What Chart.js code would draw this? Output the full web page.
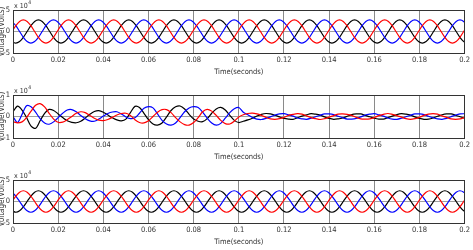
<!DOCTYPE html>
<html>
<head>
<meta charset="utf-8">
<script src="https://cdn.jsdelivr.net/npm/chart.js@4.4.1/dist/chart.umd.min.js"></script>
<style>
  html, body { margin: 0; padding: 0; background: #fff; }
  body { width: 473px; height: 250px; overflow: hidden; position: relative; }
  .plot { position: absolute; left: -4px; width: 477px; height: 85px; }
</style>
</head>
<body>
<div class="plot" style="top:0px"><canvas id="c1"></canvas></div>
<div class="plot" style="top:85px"><canvas id="c2"></canvas></div>
<div class="plot" style="top:170px"><canvas id="c3"></canvas></div>
<script>
// time axis is in milliseconds, ticks labelled in seconds
const xTickLabels = ['0', '0.02', '0.04', '0.06', '0.08', '0.1', '0.12', '0.14', '0.16', '0.18', '0.2'];

// sample times for the source and load voltages (ms)
const timeMs = [
  -0.42, 1.25, 2.92, 4.58, 6.25, 7.92, 9.58, 11.25, 12.92, 14.58, 16.25, 17.92,
  19.58, 21.25, 22.92, 24.58, 26.25, 27.92, 29.58, 31.25, 32.92, 34.58, 36.25, 37.92,
  39.58, 41.25, 42.92, 44.58, 46.25, 47.92, 49.58, 51.25, 52.92, 54.58, 56.25, 57.92,
  59.58, 61.25, 62.92, 64.58, 66.25, 67.92, 69.58, 71.25, 72.92, 74.58, 76.25, 77.92,
  79.58, 81.25, 82.92, 84.58, 86.25, 87.92, 89.58, 91.25, 92.92, 94.58, 96.25, 97.92,
  99.58, 101.25, 102.92, 104.58, 106.25, 107.92, 109.58, 111.25, 112.92, 114.58, 116.25, 117.92,
  119.58, 121.25, 122.92, 124.58, 126.25, 127.92, 129.58, 131.25, 132.92, 134.58, 136.25, 137.92,
  139.58, 141.25, 142.92, 144.58, 146.25, 147.92, 149.58, 151.25, 152.92, 154.58, 156.25, 157.92,
  159.58, 161.25, 162.92, 164.58, 166.25, 167.92, 169.58, 171.25, 172.92, 174.58, 176.25, 177.92,
  179.58, 181.25, 182.92, 184.58, 186.25, 187.92, 189.58, 191.25, 192.92, 194.58, 196.25, 197.92,
  199.58, 201.25
];

// top plot (x 10^4 V)
const srcRed = [
  0, 1.35, 2.34, 2.7, 2.34, 1.35, 0, -1.35, -2.34, -2.7, -2.34, -1.35,
  0, 1.35, 2.34, 2.7, 2.34, 1.35, 0, -1.35, -2.34, -2.7, -2.34, -1.35,
  0, 1.35, 2.34, 2.7, 2.34, 1.35, 0, -1.35, -2.34, -2.7, -2.34, -1.35,
  0, 1.35, 2.34, 2.7, 2.34, 1.35, 0, -1.35, -2.34, -2.7, -2.34, -1.35,
  0, 1.35, 2.34, 2.7, 2.34, 1.35, 0, -1.35, -2.34, -2.7, -2.34, -1.35,
  0, 1.35, 2.34, 2.7, 2.34, 1.35, 0, -1.35, -2.34, -2.7, -2.34, -1.35,
  0, 1.35, 2.34, 2.7, 2.34, 1.35, 0, -1.35, -2.34, -2.7, -2.34, -1.35,
  0, 1.35, 2.34, 2.7, 2.34, 1.35, 0, -1.35, -2.34, -2.7, -2.34, -1.35,
  0, 1.35, 2.34, 2.7, 2.34, 1.35, 0, -1.35, -2.34, -2.7, -2.34, -1.35,
  0, 1.35, 2.34, 2.7, 2.34, 1.35, 0, -1.35, -2.34, -2.7, -2.34, -1.35,
  0, 1.35
];
const srcBlue = [
  2.34, 1.35, 0, -1.35, -2.34, -2.7, -2.34, -1.35, 0, 1.35, 2.34, 2.7,
  2.34, 1.35, 0, -1.35, -2.34, -2.7, -2.34, -1.35, 0, 1.35, 2.34, 2.7,
  2.34, 1.35, 0, -1.35, -2.34, -2.7, -2.34, -1.35, 0, 1.35, 2.34, 2.7,
  2.34, 1.35, 0, -1.35, -2.34, -2.7, -2.34, -1.35, 0, 1.35, 2.34, 2.7,
  2.34, 1.35, 0, -1.35, -2.34, -2.7, -2.34, -1.35, 0, 1.35, 2.34, 2.7,
  2.34, 1.35, 0, -1.35, -2.34, -2.7, -2.34, -1.35, 0, 1.35, 2.34, 2.7,
  2.34, 1.35, 0, -1.35, -2.34, -2.7, -2.34, -1.35, 0, 1.35, 2.34, 2.7,
  2.34, 1.35, 0, -1.35, -2.34, -2.7, -2.34, -1.35, 0, 1.35, 2.34, 2.7,
  2.34, 1.35, 0, -1.35, -2.34, -2.7, -2.34, -1.35, 0, 1.35, 2.34, 2.7,
  2.34, 1.35, 0, -1.35, -2.34, -2.7, -2.34, -1.35, 0, 1.35, 2.34, 2.7,
  2.34, 1.35
];
const srcBlack = [
  -2.34, -2.7, -2.34, -1.35, 0, 1.35, 2.34, 2.7, 2.34, 1.35, 0, -1.35,
  -2.34, -2.7, -2.34, -1.35, 0, 1.35, 2.34, 2.7, 2.34, 1.35, 0, -1.35,
  -2.34, -2.7, -2.34, -1.35, 0, 1.35, 2.34, 2.7, 2.34, 1.35, 0, -1.35,
  -2.34, -2.7, -2.34, -1.35, 0, 1.35, 2.34, 2.7, 2.34, 1.35, 0, -1.35,
  -2.34, -2.7, -2.34, -1.35, 0, 1.35, 2.34, 2.7, 2.34, 1.35, 0, -1.35,
  -2.34, -2.7, -2.34, -1.35, 0, 1.35, 2.34, 2.7, 2.34, 1.35, 0, -1.35,
  -2.34, -2.7, -2.34, -1.35, 0, 1.35, 2.34, 2.7, 2.34, 1.35, 0, -1.35,
  -2.34, -2.7, -2.34, -1.35, 0, 1.35, 2.34, 2.7, 2.34, 1.35, 0, -1.35,
  -2.34, -2.7, -2.34, -1.35, 0, 1.35, 2.34, 2.7, 2.34, 1.35, 0, -1.35,
  -2.34, -2.7, -2.34, -1.35, 0, 1.35, 2.34, 2.7, 2.34, 1.35, 0, -1.35,
  -2.34, -2.7
];

// middle plot: distorted voltage, drops after 0.1 s (x 10^4 V)
const faultTimeMs = [
  0, 2, 4, 6, 8, 10, 12, 14, 16, 18, 20, 22, 24, 26, 28, 30, 32, 34, 36, 38,
  40, 42, 44, 46, 48, 50, 52, 54, 56, 58, 60, 62, 64, 66, 68, 70, 72, 74, 76, 78,
  80, 82, 84, 86, 88, 90, 92, 94, 96, 98, 100, 102, 104, 106, 108, 110, 112, 114, 116, 118,
  120, 122, 124, 126, 128, 130, 132, 134, 136, 138, 140, 142, 144, 146, 148, 150, 152, 154, 156, 158,
  160, 162, 164, 166, 168, 170, 172, 174, 176, 178, 180, 182, 184, 186, 188, 190, 192, 194, 196, 198,
  200
];
const faultRed = [
  -0.24, -0.3, -0.25, -0.05, 0.25, 0.52, 0.6, 0.45, 0.15, -0.12,
  -0.27, -0.26, -0.15, 0.0, 0.15, 0.22, 0.18, 0.05, -0.08, -0.17,
  -0.19, -0.14, -0.04, 0.07, 0.14, 0.15, 0.05, -0.15, -0.28, -0.3,
  -0.2, 0.0, 0.2, 0.32, 0.32, 0.18, -0.05, -0.25, -0.38, -0.4,
  -0.28, -0.05, 0.22, 0.33, 0.25, 0.05, -0.18, -0.33, -0.35, -0.22,
  -0.02,
  0.08, 0.14, 0.16, 0.12, 0.05, -0.04, -0.11, -0.13, -0.1, -0.04,
  0.05, 0.1, 0.13, 0.11, 0.03, -0.05, -0.1, -0.14, -0.1, -0.03,
  0.04, 0.11, 0.12, 0.1, 0.05, -0.04, -0.11, -0.12, -0.11, -0.05,
  0.04, 0.1, 0.14, 0.1, 0.04, -0.03, -0.1, -0.13, -0.1, -0.04,
  0.05, 0.11, 0.13, 0.11, 0.03, -0.04, -0.11, -0.13, -0.11, -0.04
];
const faultBlue = [
  0.0, -0.28, 0.1, 0.5, 0.45, 0.2, -0.1, -0.3, -0.36, -0.25,
  -0.05, 0.15, 0.3, 0.32, 0.22, 0.05, -0.1, -0.2, -0.22, -0.12,
  0.02, 0.14, 0.21, 0.22, 0.12, -0.02, -0.1, -0.06, 0.15, 0.38,
  0.46, 0.4, 0.12, -0.18, -0.35, -0.4, -0.3, -0.05, 0.22, 0.4,
  0.46, 0.42, 0.2, -0.08, -0.3, -0.4, -0.32, -0.08, 0.18, 0.36,
  0.42,
  0.2, 0.08, -0.05, -0.12, -0.14, -0.09, -0.02, 0.07, 0.12, 0.13,
  0.08, 0.02, -0.07, -0.11, -0.13, -0.08, -0.01, 0.06, 0.12, 0.12,
  0.09, 0.01, -0.06, -0.12, -0.12, -0.09, -0.02, 0.07, 0.11, 0.13,
  0.08, 0.02, -0.07, -0.12, -0.13, -0.08, -0.01, 0.06, 0.12, 0.12,
  0.09, 0.01, -0.06, -0.11, -0.13, -0.09, -0.01, 0.07, 0.12, 0.13
];
const faultBlack = [
  0.22, 0.48, 0.3, -0.05, -0.45, -0.55, -0.2, 0.15, 0.33, 0.28,
  0.12, -0.05, -0.2, -0.27, -0.29, -0.22, -0.07, 0.1, 0.23, 0.27,
  0.2, 0.07, -0.06, -0.16, -0.2, -0.12, 0.18, 0.47, 0.42, 0.15,
  -0.15, -0.35, -0.4, -0.3, -0.02, 0.28, 0.45, 0.49, 0.35, 0.1,
  -0.12, -0.22, -0.24, -0.1, 0.15, 0.35, 0.42, 0.3, 0.05, -0.18,
  -0.28,
  -0.22, -0.16, -0.08, 0.02, 0.1, 0.14, 0.12, 0.06, -0.02, -0.09,
  -0.12, -0.13, -0.06, 0.02, 0.08, 0.13, 0.11, 0.07, -0.02, -0.09,
  -0.13, -0.11, -0.07, 0.01, 0.09, 0.12, 0.12, 0.05, -0.01, -0.08,
  -0.12, -0.12, -0.05, 0.02, 0.09, 0.13, 0.11, 0.07, -0.02, -0.09,
  -0.13, -0.12, -0.07, 0.01, 0.08, 0.12, 0.12, 0.06, -0.01, -0.08
];

// bottom plot (x 10^4 V)
const loadRed = [
  0, 1.25, 2.17, 2.5, 2.17, 1.25, 0, -1.25, -2.17, -2.5, -2.17, -1.25,
  0, 1.25, 2.17, 2.5, 2.17, 1.25, 0, -1.25, -2.17, -2.5, -2.17, -1.25,
  0, 1.25, 2.17, 2.5, 2.17, 1.25, 0, -1.25, -2.17, -2.5, -2.17, -1.25,
  0, 1.25, 2.17, 2.5, 2.17, 1.25, 0, -1.25, -2.17, -2.5, -2.17, -1.25,
  0, 1.25, 2.17, 2.5, 2.17, 1.25, 0, -1.25, -2.17, -2.5, -2.17, -1.25,
  0, 1.25, 2.17, 2.5, 2.17, 1.25, 0, -1.25, -2.17, -2.5, -2.17, -1.25,
  0, 1.25, 2.17, 2.5, 2.17, 1.25, 0, -1.25, -2.17, -2.5, -2.17, -1.25,
  0, 1.25, 2.17, 2.5, 2.17, 1.25, 0, -1.25, -2.17, -2.5, -2.17, -1.25,
  0, 1.25, 2.17, 2.5, 2.17, 1.25, 0, -1.25, -2.17, -2.5, -2.17, -1.25,
  0, 1.25, 2.17, 2.5, 2.17, 1.25, 0, -1.25, -2.17, -2.5, -2.17, -1.25,
  0, 1.25
];
const loadBlue = [
  2.17, 1.25, 0, -1.25, -2.17, -2.5, -2.17, -1.25, 0, 1.25, 2.17, 2.5,
  2.17, 1.25, 0, -1.25, -2.17, -2.5, -2.17, -1.25, 0, 1.25, 2.17, 2.5,
  2.17, 1.25, 0, -1.25, -2.17, -2.5, -2.17, -1.25, 0, 1.25, 2.17, 2.5,
  2.17, 1.25, 0, -1.25, -2.17, -2.5, -2.17, -1.25, 0, 1.25, 2.17, 2.5,
  2.17, 1.25, 0, -1.25, -2.17, -2.5, -2.17, -1.25, 0, 1.25, 2.17, 2.5,
  2.17, 1.25, 0, -1.25, -2.17, -2.5, -2.17, -1.25, 0, 1.25, 2.17, 2.5,
  2.17, 1.25, 0, -1.25, -2.17, -2.5, -2.17, -1.25, 0, 1.25, 2.17, 2.5,
  2.17, 1.25, 0, -1.25, -2.17, -2.5, -2.17, -1.25, 0, 1.25, 2.17, 2.5,
  2.17, 1.25, 0, -1.25, -2.17, -2.5, -2.17, -1.25, 0, 1.25, 2.17, 2.5,
  2.17, 1.25, 0, -1.25, -2.17, -2.5, -2.17, -1.25, 0, 1.25, 2.17, 2.5,
  2.17, 1.25
];
const loadBlack = [
  -2.17, -2.5, -2.17, -1.25, 0, 1.25, 2.17, 2.5, 2.17, 1.25, 0, -1.25,
  -2.17, -2.5, -2.17, -1.25, 0, 1.25, 2.17, 2.5, 2.17, 1.25, 0, -1.25,
  -2.17, -2.5, -2.17, -1.25, 0, 1.25, 2.17, 2.5, 2.17, 1.25, 0, -1.25,
  -2.17, -2.5, -2.17, -1.25, 0, 1.25, 2.17, 2.5, 2.17, 1.25, 0, -1.25,
  -2.17, -2.5, -2.17, -1.25, 0, 1.25, 2.17, 2.5, 2.17, 1.25, 0, -1.25,
  -2.17, -2.5, -2.17, -1.25, 0, 1.25, 2.17, 2.5, 2.17, 1.25, 0, -1.25,
  -2.17, -2.5, -2.17, -1.25, 0, 1.25, 2.17, 2.5, 2.17, 1.25, 0, -1.25,
  -2.17, -2.5, -2.17, -1.25, 0, 1.25, 2.17, 2.5, 2.17, 1.25, 0, -1.25,
  -2.17, -2.5, -2.17, -1.25, 0, 1.25, 2.17, 2.5, 2.17, 1.25, 0, -1.25,
  -2.17, -2.5, -2.17, -1.25, 0, 1.25, 2.17, 2.5, 2.17, 1.25, 0, -1.25,
  -2.17, -2.5
];

const FONT = "'Liberation Sans Narrow', 'DejaVu Sans Condensed', 'Liberation Sans', Arial, sans-serif";

// draws the axes box and the "x 10^4" exponent above the plot
const boxPlugin = {
  id: 'box',
  afterDraw(chart) {
    const { ctx, chartArea: a } = chart;
    ctx.save();
    ctx.strokeStyle = '#333';
    ctx.lineWidth = 1;
    ctx.strokeRect(Math.round(a.left) + 0.5, Math.round(a.top) + 0.5,
      Math.round(a.right - a.left) - 1, Math.round(a.bottom - a.top));
    ctx.fillStyle = '#333';
    ctx.textBaseline = 'alphabetic';
    ctx.font = '7px ' + FONT;
    ctx.fillText('x 10', a.left + 1, a.top - 2);
    const w = ctx.measureText('x 10').width;
    ctx.font = '5px ' + FONT;
    ctx.fillText('4', a.left + 1.5 + w, a.top - 6);
    ctx.restore();
  }
};

function series(times, values, color, smooth) {
  return {
    data: times.map((t, i) => ({ x: t, y: values[i] })),
    borderColor: color,
    borderWidth: 1.2,
    pointRadius: 0,
    fill: false,
    tension: smooth ? 0 : 0.3,
    cubicInterpolationMode: smooth ? 'monotone' : 'default'
  };
}

function makeChart(id, datasets, yLimit, yStep) {
  return new Chart(document.getElementById(id), {
    type: 'line',
    data: { datasets },
    plugins: [boxPlugin],
    options: {
      responsive: true,
      maintainAspectRatio: false,
      animation: false,
      layout: { padding: { top: 10, right: 7, left: 0, bottom: 0 } },
      plugins: { legend: { display: false }, tooltip: { enabled: false } },
      scales: {
        x: {
          type: 'linear',
          min: 0,
          max: 200,
          afterFit: s => { s.height = 32; },
          grid: { color: '#8a8a8a', lineWidth: 1, drawTicks: false },
          border: { display: false },
          ticks: {
            stepSize: 20,
            padding: 3,
            maxRotation: 0,
            autoSkip: false,
            color: '#333',
            font: { family: FONT, size: 7.5 },
            callback: (v, i) => xTickLabels[i]
          },
          title: {
            display: true,
            text: 'Time(seconds)',
            color: '#333',
            font: { family: FONT, size: 7.5 },
            padding: { top: 0, bottom: 8 }
          }
        },
        y: {
          min: -yLimit,
          max: yLimit,
          afterFit: s => { s.width = 17; },
          grid: { color: '#a0a0a0', lineWidth: 1, drawTicks: false },
          border: { display: false },
          ticks: {
            stepSize: yStep,
            padding: 3,
            color: '#333',
            font: { family: FONT, size: 7.5 }
          },
          title: {
            display: true,
            text: 'Voltage(Volts)',
            color: '#333',
            font: { family: FONT, size: 8 },
            padding: { top: 1, bottom: 0 }
          }
        }
      }
    }
  });
}

makeChart('c1', [
  series(timeMs, srcRed, '#ff0000', true),
  series(timeMs, srcBlue, '#0000ff', true),
  series(timeMs, srcBlack, '#000000', true)
], 5, 5);

makeChart('c2', [
  series(faultTimeMs, faultRed, '#ff0000', false),
  series(faultTimeMs, faultBlue, '#0000ff', false),
  series(faultTimeMs, faultBlack, '#000000', false)
], 1, 1);

makeChart('c3', [
  series(timeMs, loadRed, '#ff0000', true),
  series(timeMs, loadBlue, '#0000ff', true),
  series(timeMs, loadBlack, '#000000', true)
], 5, 5);
</script>
</body>
</html>
